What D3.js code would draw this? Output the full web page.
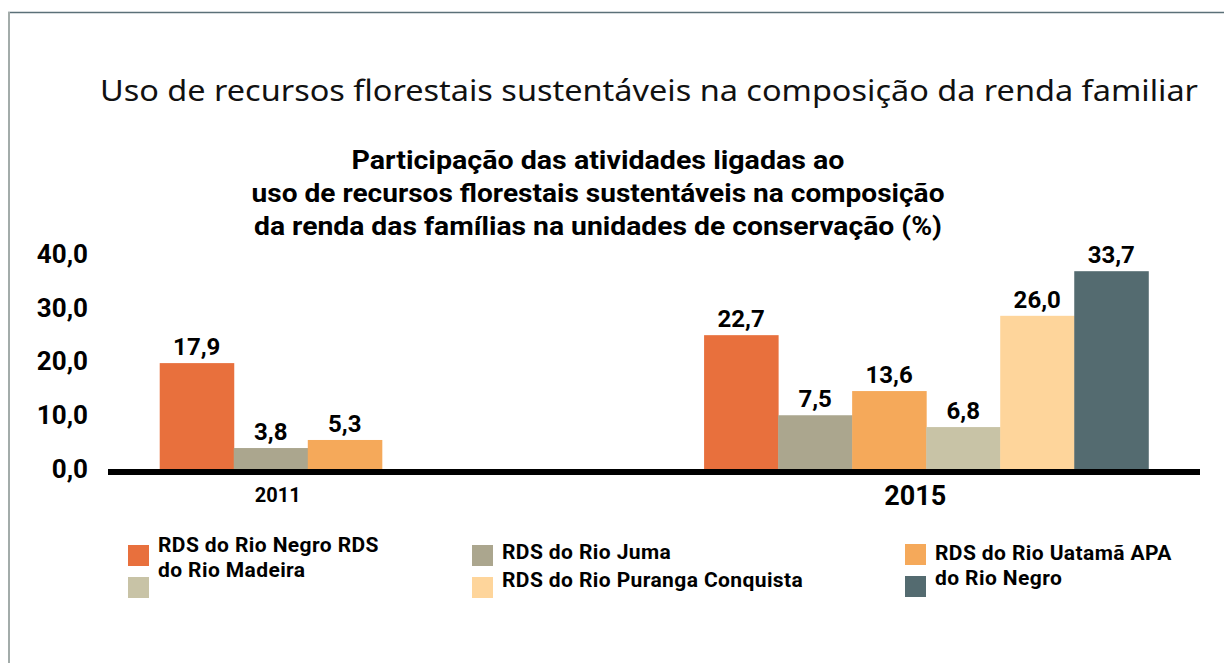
<!DOCTYPE html>
<html>
<head>
<meta charset="utf-8">
<script src="https://cdn.jsdelivr.net/npm/d3@7"></script>
<style>
  body { margin: 0; background: #fff; }
  text { font-family: Roboto, "Noto Sans", sans-serif; }
</style>
</head>
<body>
<svg id="chart" width="1224" height="663"></svg>
<script>
const years = ["2011", "2015"];
const seriesNames = ["RDS do Rio Negro", "RDS do Rio Juma", "RDS do Rio Uatamã", "RDS do Rio Madeira", "RDS do Rio Puranga Conquista", "APA do Rio Negro"];
const seriesColors = ["#e8703d", "#aba68e", "#f5a95a", "#c8c3a6", "#fed59b", "#546b70"];

// printed values (labels above the bars)
const printed2011 = [17.9, 3.8, 5.3];
const printed2015 = [22.7, 7.5, 13.6, 6.8, 26.0, 33.7];
// heights the bars are actually drawn at in the source graphic
const drawn2011 = [19.7, 3.9, 5.4];
const drawn2015 = [24.9, 10.0, 14.5, 7.8, 28.5, 36.8];

const yTicks = [0, 10, 20, 30, 40];

const legendColumns = [
  { series: [0, 3], lines: ["RDS do Rio Negro RDS", "do Rio Madeira"] },
  { series: [1, 4], lines: ["RDS do Rio Juma", "RDS do Rio Puranga Conquista"] },
  { series: [2, 5], lines: ["RDS do Rio Uatamã APA", "do Rio Negro"] }
];

const title = "Uso de recursos florestais sustentáveis na composição da renda familiar";
const subtitle = [
  "Participação das atividades ligadas ao",
  "uso de recursos florestais sustentáveis na composição",
  "da renda das famílias na unidades de conservação (%)"
];

const svg = d3.select("#chart");
const locale = d3.formatLocale({ decimal: ",", thousands: ".", grouping: [3], currency: ["R$", ""] });
const fmt = locale.format(".1f");

// frame
svg.append("line").attr("x1", 8).attr("x2", 1224).attr("y1", 12.5).attr("y2", 12.5)
  .attr("stroke", "#5b7078").attr("stroke-width", 1.5);
svg.append("line").attr("x1", 9).attr("x2", 9).attr("y1", 12).attr("y2", 663)
  .attr("stroke", "#a3acaa").attr("stroke-width", 2);

// titles
svg.append("text")
  .attr("x", 100).attr("y", 101)
  .attr("textLength", 1098).attr("lengthAdjust", "spacingAndGlyphs")
  .style("font-family", "'Noto Sans', sans-serif")
  .style("font-size", "29px")
  .style("fill", "#111")
  .text(title);

const subWidths = [493, 693, 688];
svg.append("g").selectAll("text")
  .data(subtitle)
  .join("text")
  .attr("x", 598)
  .attr("y", (d, i) => 169 + i * 33)
  .attr("text-anchor", "middle")
  .attr("textLength", (d, i) => subWidths[i])
  .attr("lengthAdjust", "spacingAndGlyphs")
  .style("font-size", "26px")
  .style("font-weight", "bold")
  .text(d => d);

// scales
const x0 = d3.scaleBand().domain(years).range([108, 1200]).paddingInner(0.184).paddingOuter(0.095);
const x1 = d3.scaleBand().domain(d3.range(6)).range([0, x0.bandwidth()]);
const y = d3.scaleLinear().domain([0, 40]).range([469, 254]);

const rows = [];
printed2011.forEach((v, i) => rows.push({ year: "2011", s: i, value: v, drawn: drawn2011[i] }));
printed2015.forEach((v, i) => rows.push({ year: "2015", s: i, value: v, drawn: drawn2015[i] }));

// bars
svg.append("g").selectAll("rect")
  .data(rows)
  .join("rect")
  .attr("x", d => x0(d.year) + x1(d.s))
  .attr("y", d => y(d.drawn))
  .attr("width", x1.bandwidth() + 0.5)
  .attr("height", d => y(0) - y(d.drawn))
  .attr("fill", d => seriesColors[d.s]);

svg.append("g").selectAll("text")
  .data(rows)
  .join("text")
  .attr("x", d => x0(d.year) + x1(d.s) + x1.bandwidth() / 2)
  .attr("y", d => y(d.drawn) - 8)
  .attr("text-anchor", "middle")
  .style("font-size", "24px")
  .style("font-weight", "bold")
  .text(d => fmt(d.value));

// y axis
const yAxis = svg.append("g")
  .attr("transform", "translate(88,0)")
  .call(d3.axisLeft(y).tickValues(yTicks).tickFormat(fmt).tickSize(0).tickPadding(0));
yAxis.select(".domain").remove();
yAxis.selectAll("text")
  .style("font-family", "Roboto, sans-serif")
  .style("font-size", "26px")
  .style("font-weight", "bold")
  .style("fill", "#000");

// baseline
svg.append("line")
  .attr("x1", x0.range()[0]).attr("x2", x0.range()[1])
  .attr("y1", y(0) + 3).attr("y2", y(0) + 3)
  .attr("stroke", "#000").attr("stroke-width", 6);

// year labels
const yearFont = { "2011": 20, "2015": 27 };
const yearBase = { "2011": 502, "2015": 505 };
svg.append("g").selectAll("text")
  .data(years)
  .join("text")
  .attr("x", d => {
    const n = d === "2011" ? printed2011.length : printed2015.length;
    return x0(d) + x1.step() * n / 2 + (d === "2011" ? 7 : -11);
  })
  .attr("y", d => yearBase[d])
  .attr("text-anchor", "middle")
  .style("font-size", d => yearFont[d] + "px")
  .style("font-weight", "bold")
  .text(d => d);

// legend
const legendX = [128, 472, 905];
const legendTop = [545, 545, 544];
const textBase = [[552, 577], [559, 587], [560, 585]];
const lg = svg.append("g").selectAll("g")
  .data(legendColumns)
  .join("g");

lg.selectAll("rect")
  .data((d, i) => d.series.map((s, k) => ({ s, k, col: i })))
  .join("rect")
  .attr("x", d => legendX[d.col])
  .attr("y", d => legendTop[d.col] + d.k * 32)
  .attr("width", 21)
  .attr("height", 21)
  .attr("fill", d => seriesColors[d.s])
  .append("title").text(d => seriesNames[d.s]);

lg.selectAll("text")
  .data((d, i) => d.lines.map((t, k) => ({ t, k, col: i })))
  .join("text")
  .attr("x", d => legendX[d.col] + 30)
  .attr("y", d => textBase[d.col][d.k])
  .style("font-size", "21px")
  .style("font-weight", "bold")
  .style("letter-spacing", "0.4px")
  .text(d => d.t);
</script>
</body>
</html>
